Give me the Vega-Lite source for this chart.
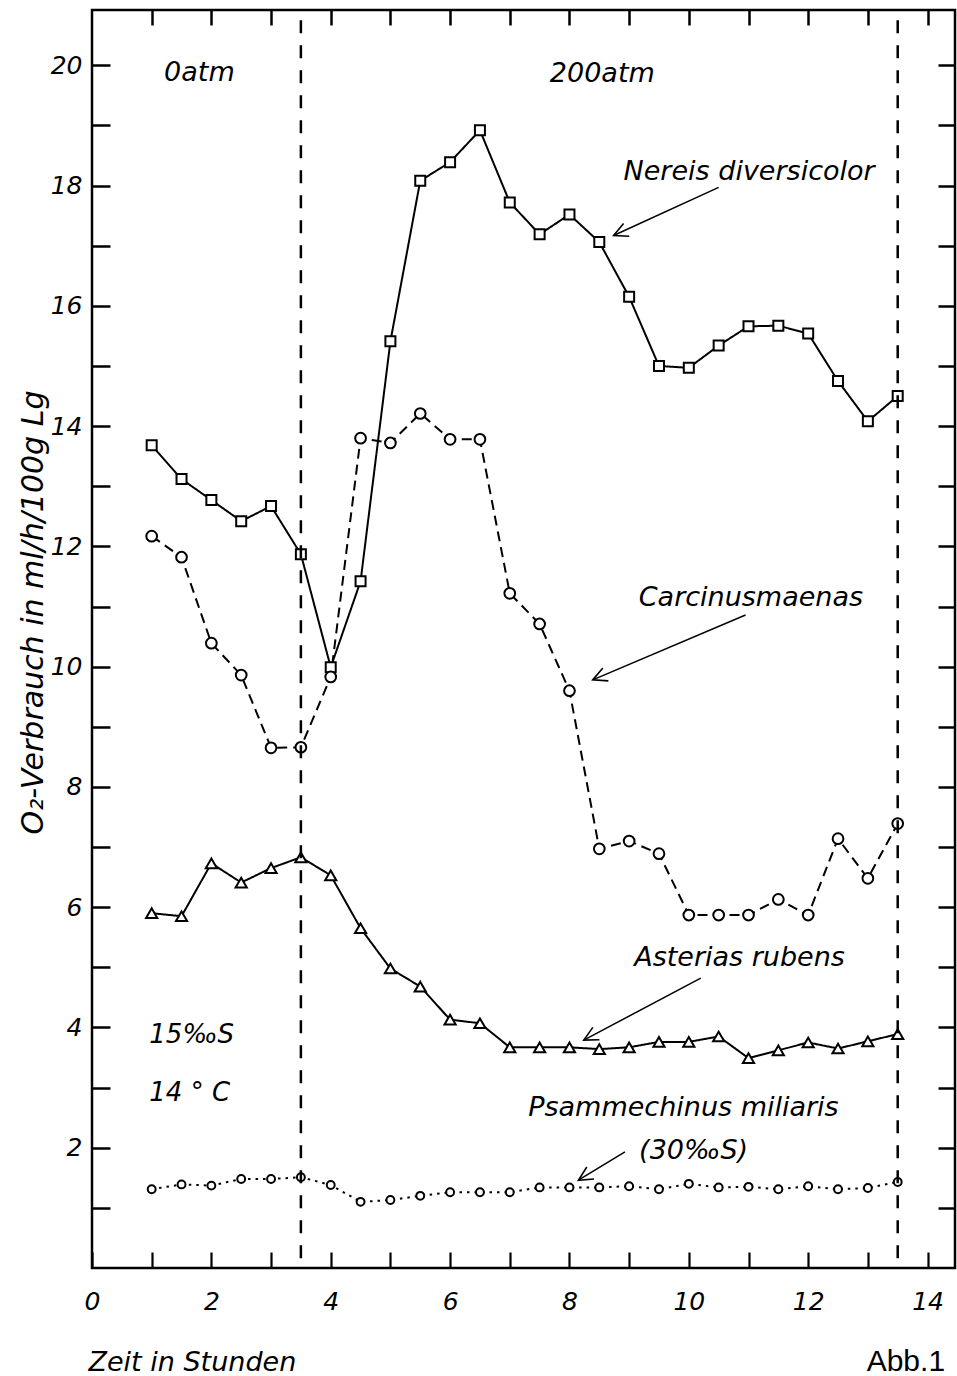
{
  "$schema": "https://vega.github.io/schema/vega-lite/v6.json",
  "width": 863,
  "height": 1258,
  "autosize": {"type": "none"},
  "padding": {"left": 92, "top": 10, "right": 2, "bottom": 108},
  "background": "white",
  "config": {
    "view": {"stroke": "black", "strokeWidth": 2.5},
    "font": "DejaVu Sans"
  },
  "datasets": {
    "series": [
      {"s": "Nereis", "t": 1, "v": 13.68}, {"s": "Nereis", "t": 1.5, "v": 13.12}, {"s": "Nereis", "t": 2, "v": 12.77}, {"s": "Nereis", "t": 2.5, "v": 12.42},
      {"s": "Nereis", "t": 3, "v": 12.67}, {"s": "Nereis", "t": 3.5, "v": 11.87}, {"s": "Nereis", "t": 4, "v": 9.99}, {"s": "Nereis", "t": 4.5, "v": 11.42},
      {"s": "Nereis", "t": 5, "v": 15.41}, {"s": "Nereis", "t": 5.5, "v": 18.08}, {"s": "Nereis", "t": 6, "v": 18.39}, {"s": "Nereis", "t": 6.5, "v": 18.92},
      {"s": "Nereis", "t": 7, "v": 17.72}, {"s": "Nereis", "t": 7.5, "v": 17.19}, {"s": "Nereis", "t": 8, "v": 17.52}, {"s": "Nereis", "t": 8.5, "v": 17.06},
      {"s": "Nereis", "t": 9, "v": 16.15}, {"s": "Nereis", "t": 9.5, "v": 15.0}, {"s": "Nereis", "t": 10, "v": 14.97}, {"s": "Nereis", "t": 10.5, "v": 15.34},
      {"s": "Nereis", "t": 11, "v": 15.66}, {"s": "Nereis", "t": 11.5, "v": 15.67}, {"s": "Nereis", "t": 12, "v": 15.54}, {"s": "Nereis", "t": 12.5, "v": 14.75},
      {"s": "Nereis", "t": 13, "v": 14.08}, {"s": "Nereis", "t": 13.5, "v": 14.5},
      {"s": "Carcinus", "t": 1, "v": 12.17}, {"s": "Carcinus", "t": 1.5, "v": 11.82}, {"s": "Carcinus", "t": 2, "v": 10.39}, {"s": "Carcinus", "t": 2.5, "v": 9.86},
      {"s": "Carcinus", "t": 3, "v": 8.65}, {"s": "Carcinus", "t": 3.5, "v": 8.66}, {"s": "Carcinus", "t": 4, "v": 9.83}, {"s": "Carcinus", "t": 4.5, "v": 13.8},
      {"s": "Carcinus", "t": 5, "v": 13.72}, {"s": "Carcinus", "t": 5.5, "v": 14.21}, {"s": "Carcinus", "t": 6, "v": 13.78}, {"s": "Carcinus", "t": 6.5, "v": 13.78},
      {"s": "Carcinus", "t": 7, "v": 11.22}, {"s": "Carcinus", "t": 7.5, "v": 10.71}, {"s": "Carcinus", "t": 8, "v": 9.6}, {"s": "Carcinus", "t": 8.5, "v": 6.97},
      {"s": "Carcinus", "t": 9, "v": 7.1}, {"s": "Carcinus", "t": 9.5, "v": 6.89}, {"s": "Carcinus", "t": 10, "v": 5.87}, {"s": "Carcinus", "t": 10.5, "v": 5.87},
      {"s": "Carcinus", "t": 11, "v": 5.87}, {"s": "Carcinus", "t": 11.5, "v": 6.13}, {"s": "Carcinus", "t": 12, "v": 5.87}, {"s": "Carcinus", "t": 12.5, "v": 7.14},
      {"s": "Carcinus", "t": 13, "v": 6.48}, {"s": "Carcinus", "t": 13.5, "v": 7.39},
      {"s": "Asterias", "t": 1, "v": 5.9}, {"s": "Asterias", "t": 1.5, "v": 5.85}, {"s": "Asterias", "t": 2, "v": 6.73}, {"s": "Asterias", "t": 2.5, "v": 6.41},
      {"s": "Asterias", "t": 3, "v": 6.65}, {"s": "Asterias", "t": 3.5, "v": 6.83}, {"s": "Asterias", "t": 4, "v": 6.53}, {"s": "Asterias", "t": 4.5, "v": 5.65},
      {"s": "Asterias", "t": 5, "v": 4.98}, {"s": "Asterias", "t": 5.5, "v": 4.68}, {"s": "Asterias", "t": 6, "v": 4.13}, {"s": "Asterias", "t": 6.5, "v": 4.07},
      {"s": "Asterias", "t": 7, "v": 3.67}, {"s": "Asterias", "t": 7.5, "v": 3.67}, {"s": "Asterias", "t": 8, "v": 3.67}, {"s": "Asterias", "t": 8.5, "v": 3.64},
      {"s": "Asterias", "t": 9, "v": 3.67}, {"s": "Asterias", "t": 9.5, "v": 3.76}, {"s": "Asterias", "t": 10, "v": 3.76}, {"s": "Asterias", "t": 10.5, "v": 3.85},
      {"s": "Asterias", "t": 11, "v": 3.49}, {"s": "Asterias", "t": 11.5, "v": 3.62}, {"s": "Asterias", "t": 12, "v": 3.75}, {"s": "Asterias", "t": 12.5, "v": 3.65},
      {"s": "Asterias", "t": 13, "v": 3.77}, {"s": "Asterias", "t": 13.5, "v": 3.89},
      {"s": "Psammechinus", "t": 1, "v": 1.31}, {"s": "Psammechinus", "t": 1.5, "v": 1.39}, {"s": "Psammechinus", "t": 2, "v": 1.37}, {"s": "Psammechinus", "t": 2.5, "v": 1.48},
      {"s": "Psammechinus", "t": 3, "v": 1.48}, {"s": "Psammechinus", "t": 3.5, "v": 1.51}, {"s": "Psammechinus", "t": 4, "v": 1.38}, {"s": "Psammechinus", "t": 4.5, "v": 1.1},
      {"s": "Psammechinus", "t": 5, "v": 1.13}, {"s": "Psammechinus", "t": 5.5, "v": 1.2}, {"s": "Psammechinus", "t": 6, "v": 1.26}, {"s": "Psammechinus", "t": 6.5, "v": 1.26},
      {"s": "Psammechinus", "t": 7, "v": 1.26}, {"s": "Psammechinus", "t": 7.5, "v": 1.34}, {"s": "Psammechinus", "t": 8, "v": 1.34}, {"s": "Psammechinus", "t": 8.5, "v": 1.34},
      {"s": "Psammechinus", "t": 9, "v": 1.36}, {"s": "Psammechinus", "t": 9.5, "v": 1.31}, {"s": "Psammechinus", "t": 10, "v": 1.4}, {"s": "Psammechinus", "t": 10.5, "v": 1.34},
      {"s": "Psammechinus", "t": 11, "v": 1.35}, {"s": "Psammechinus", "t": 11.5, "v": 1.31}, {"s": "Psammechinus", "t": 12, "v": 1.36}, {"s": "Psammechinus", "t": 12.5, "v": 1.31},
      {"s": "Psammechinus", "t": 13, "v": 1.33}, {"s": "Psammechinus", "t": 13.5, "v": 1.43}
    ],
    "notes": [
      {"label": "0atm", "t": 1.8, "v": 19.88},
      {"label": "200atm", "t": 8.55, "v": 19.85},
      {"label": "Nereis diversicolor", "t": 11.01, "v": 18.22},
      {"label": "Carcinusmaenas", "t": 11.04, "v": 11.14},
      {"label": "Asterias rubens", "t": 10.85, "v": 5.15},
      {"label": "Psammechinus miliaris", "t": 9.91, "v": 2.66},
      {"label": "(30‰S)", "t": 10.08, "v": 1.94}
    ],
    "side": [
      {"label": "15‰S", "t": 0.96, "v": 3.87},
      {"label": "14 ° C", "t": 0.96, "v": 2.91}
    ],
    "tag": [
      {"label": "Abb.1", "t": 12.98, "v": -1.56}
    ],
    "arrows": [
      {"label": "Nereis", "t": 10.5, "v": 17.97, "t2": 8.74, "v2": 17.17},
      {"label": "Carcinus", "t": 10.95, "v": 10.86, "t2": 8.39, "v2": 9.78},
      {"label": "Asterias", "t": 10.2, "v": 4.82, "t2": 8.24, "v2": 3.79},
      {"label": "Psammechinus", "t": 8.93, "v": 1.93, "t2": 8.15, "v2": 1.46}
    ],
    "phases": [
      {"t": 3.5},
      {"t": 13.5}
    ]
  },
  "layer": [
    {
      "encoding": {
        "x": {
          "field": "t", "type": "quantitative",
          "scale": {"domain": [0, 14.46], "nice": false, "zero": false},
          "axis": {
            "orient": "bottom",
            "values": [0, 1, 2, 3, 4, 5, 6, 7, 8, 9, 10, 11, 12, 13, 14],
            "labelExpr": "datum.value % 2 == 0 ? datum.label : ''",
            "grid": false, "domain": false,
            "tickSize": -16, "tickWidth": 2.2, "tickColor": "black",
            "labelFont": "DejaVu Sans", "labelFontSize": 25, "labelFontStyle": "italic", "labelColor": "black",
            "labelPadding": 37, "labelFlush": false, "labelOverlap": false, "labelBound": false,
            "title": "Zeit in Stunden",
            "titleFont": "DejaVu Sans", "titleFontSize": 27, "titleFontStyle": "italic", "titleFontWeight": "normal", "titleColor": "black",
            "titleAnchor": "start", "titleAlign": "left", "titleBaseline": "middle", "titleX": -4, "titleY": 94
          }
        },
        "y": {
          "field": "v", "type": "quantitative",
          "scale": {"domain": [0, 20.92], "nice": false, "zero": false},
          "axis": {
            "orient": "left",
            "values": [1, 2, 3, 4, 5, 6, 7, 8, 9, 10, 11, 12, 13, 14, 15, 16, 17, 18, 19, 20],
            "labelExpr": "datum.value % 2 == 0 ? datum.label : ''",
            "grid": false, "domain": false,
            "tickSize": -18, "tickWidth": 2.5, "tickColor": "black",
            "labelFont": "DejaVu Sans", "labelFontSize": 25, "labelFontStyle": "italic", "labelColor": "black",
            "labelPadding": 28, "labelFlush": false, "labelOverlap": false, "labelBound": false,
            "title": "O₂-Verbrauch in ml/h/100g Lg",
            "titleFont": "DejaVu Sans", "titleFontSize": 30, "titleFontStyle": "italic", "titleFontWeight": "normal", "titleColor": "black",
            "titleAngle": -90, "titleAlign": "center", "titleBaseline": "middle", "titleX": -59, "titleY": 602
          }
        }
      },
      "layer": [
        {
          "data": {"name": "series"},
          "mark": {"type": "line", "stroke": "black", "strokeWidth": 2},
          "encoding": {
            "strokeDash": {
              "field": "s", "type": "nominal", "legend": null,
              "scale": {"domain": ["Nereis", "Carcinus", "Asterias", "Psammechinus"], "range": [[1, 0], [10, 6], [1, 0], [2.5, 5]]}
            }
          }
        },
        {
          "data": {"name": "series"},
          "mark": {"type": "point", "filled": true, "fill": "white", "stroke": "black", "strokeWidth": 2, "opacity": 1},
          "encoding": {
            "shape": {
              "field": "s", "type": "nominal", "legend": null,
              "scale": {"domain": ["Nereis", "Carcinus", "Asterias", "Psammechinus"], "range": ["square", "circle", "triangle-up", "circle"]}
            },
            "size": {
              "field": "s", "type": "nominal", "legend": null,
              "scale": {"type": "ordinal", "domain": ["Nereis", "Carcinus", "Asterias", "Psammechinus"], "range": [100, 115, 125, 62]}
            }
          }
        },
        {
          "data": {"name": "arrows"},
          "mark": {"type": "rule", "stroke": "black", "strokeWidth": 1.5},
          "encoding": {
            "x2": {"field": "t2"},
            "y2": {"field": "v2"}
          }
        },
        {
          "data": {"name": "arrows"},
          "mark": {"type": "point", "shape": "M-1,-0.5L0,0L-1,0.5", "filled": false, "stroke": "black", "strokeWidth": 1.6, "opacity": 1, "size": 784},
          "encoding": {
            "x": {"field": "t2", "type": "quantitative"},
            "y": {"field": "v2", "type": "quantitative"},
            "angle": {
              "field": "label", "type": "nominal", "legend": null,
              "scale": {"type": "ordinal", "domain": ["Nereis", "Carcinus", "Asterias", "Psammechinus"], "range": [156, 157, 152, 149]}
            }
          }
        },
        {
          "data": {"name": "notes"},
          "mark": {"type": "text", "font": "DejaVu Sans", "fontSize": 27, "fontStyle": "italic", "align": "center", "baseline": "middle", "color": "black"},
          "encoding": {"text": {"field": "label"}}
        },
        {
          "data": {"name": "side"},
          "mark": {"type": "text", "font": "DejaVu Sans", "fontSize": 26, "fontStyle": "italic", "align": "left", "baseline": "middle", "color": "black"},
          "encoding": {"text": {"field": "label"}}
        },
        {
          "data": {"name": "tag"},
          "mark": {"type": "text", "font": "Liberation Sans", "fontSize": 30, "align": "left", "baseline": "middle", "color": "black"},
          "encoding": {"text": {"field": "label"}}
        }
      ]
    },
    {
      "data": {"name": "phases"},
      "mark": {"type": "rule", "stroke": "black", "strokeWidth": 2.5, "strokeDash": [13, 12]},
      "encoding": {
        "x": {
          "field": "t", "type": "quantitative",
          "scale": {"domain": [0, 14.46], "nice": false, "zero": false},
          "axis": {
            "orient": "top",
            "values": [1, 2, 3, 4, 5, 6, 7, 8, 9, 10, 11, 12, 13, 14],
            "labels": false, "grid": false, "domain": false, "title": null,
            "tickSize": -15, "tickWidth": 2.5, "tickColor": "black"
          }
        },
        "y": {
          "datum": 20.75, "type": "quantitative",
          "scale": {"domain": [0, 20.92], "nice": false, "zero": false},
          "axis": {
            "orient": "right",
            "values": [1, 2, 3, 4, 5, 6, 7, 8, 9, 10, 11, 12, 13, 14, 15, 16, 17, 18, 19, 20],
            "labels": false, "grid": false, "domain": false, "title": null,
            "tickSize": -17, "tickWidth": 2.5, "tickColor": "black"
          }
        },
        "y2": {"datum": 0}
      }
    }
  ],
  "resolve": {"axis": {"x": "independent", "y": "independent"}}
}
